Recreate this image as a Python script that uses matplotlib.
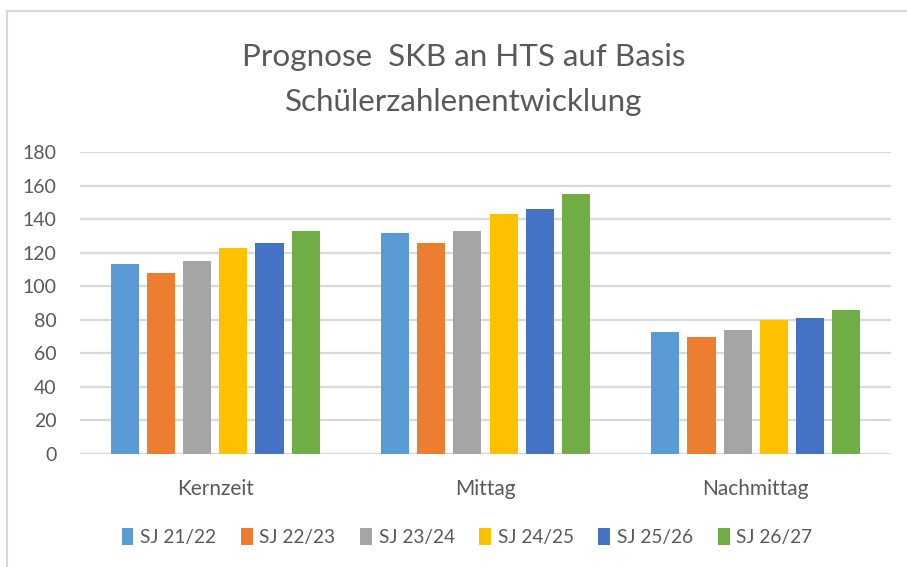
import numpy as np
import matplotlib
matplotlib.use("Agg")
import matplotlib.pyplot as plt
from matplotlib.patches import Rectangle

plt.rcParams['font.family'] = ['Lato', 'DejaVu Sans']

# data
categories = ['Kernzeit', 'Mittag', 'Nachmittag']
series_names = ['SJ 21/22', 'SJ 22/23', 'SJ 23/24', 'SJ 24/25', 'SJ 25/26', 'SJ 26/27']
sj_21_22 = [113, 132, 73]
sj_22_23 = [108, 126, 70]
sj_23_24 = [115, 133, 74]
sj_24_25 = [123, 143, 80]
sj_25_26 = [126, 146, 81]
sj_26_27 = [133, 155, 86]
y_ticks = [0, 20, 40, 60, 80, 100, 120, 140, 160, 180]

series = [sj_21_22, sj_22_23, sj_23_24, sj_24_25, sj_25_26, sj_26_27]
colors = ['#5B9BD5', '#ED7D31', '#A5A5A5', '#FFC000', '#4472C4', '#70AD47']
text_col = '#595959'
grid_col = '#D9D9D9'

fig = plt.figure(figsize=(9.07, 5.67), dpi=100)
W, H = 907, 567
ax = fig.add_axes([80 / W, 1 - 454 / H, (891 - 80) / W, (454 - 152) / H])

x = np.arange(len(categories))
pitch = 0.134
bar_w = 0.104
for i, (vals, name) in enumerate(zip(series, series_names)):
    ax.bar(x + (i - 2.5) * pitch, vals, bar_w, color=colors[i], label=name, zorder=3)

ax.set_xlim(-0.5, 2.5)
ax.set_ylim(0, 180)
ax.set_yticks(y_ticks)
ax.set_xticks(x)
ax.set_xticklabels(categories)
ax.tick_params(axis='y', length=0, labelsize=14, colors=text_col, pad=17)
ax.tick_params(axis='x', length=0, labelsize=15, colors=text_col, pad=18)
ax.yaxis.grid(True, color=grid_col, linewidth=1.6, zorder=0)
for s in ax.spines.values():
    s.set_visible(False)
ax.axhline(0, color=grid_col, linewidth=1.6, zorder=2)

# chart title sits centred on the whole chart box, which runs past the right edge
fig.text(464 / W, 1 - 57 / H, 'Prognose  SKB an HTS auf Basis', ha='center', va='center',
         fontsize=22.6, color=text_col)
fig.text(464 / W, 1 - 102 / H, 'Schülerzahlenentwicklung', ha='center', va='center',
         fontsize=22.6, color=text_col)

leg = fig.legend(loc='center', bbox_to_anchor=(467 / W, 1 - 537 / H), ncol=6, frameon=False,
                 fontsize=13.7, handlelength=0.62, handleheight=1.0, handletextpad=0.35,
                 columnspacing=1.3)
for t in leg.get_texts():
    t.set_color(text_col)

fig.patches.append(Rectangle((7 / W, -0.1), 1.2, 1.1 - 11 / H, transform=fig.transFigure,
                             fill=False, edgecolor=grid_col, linewidth=1.5))

fig.savefig('out.png', dpi=100)
